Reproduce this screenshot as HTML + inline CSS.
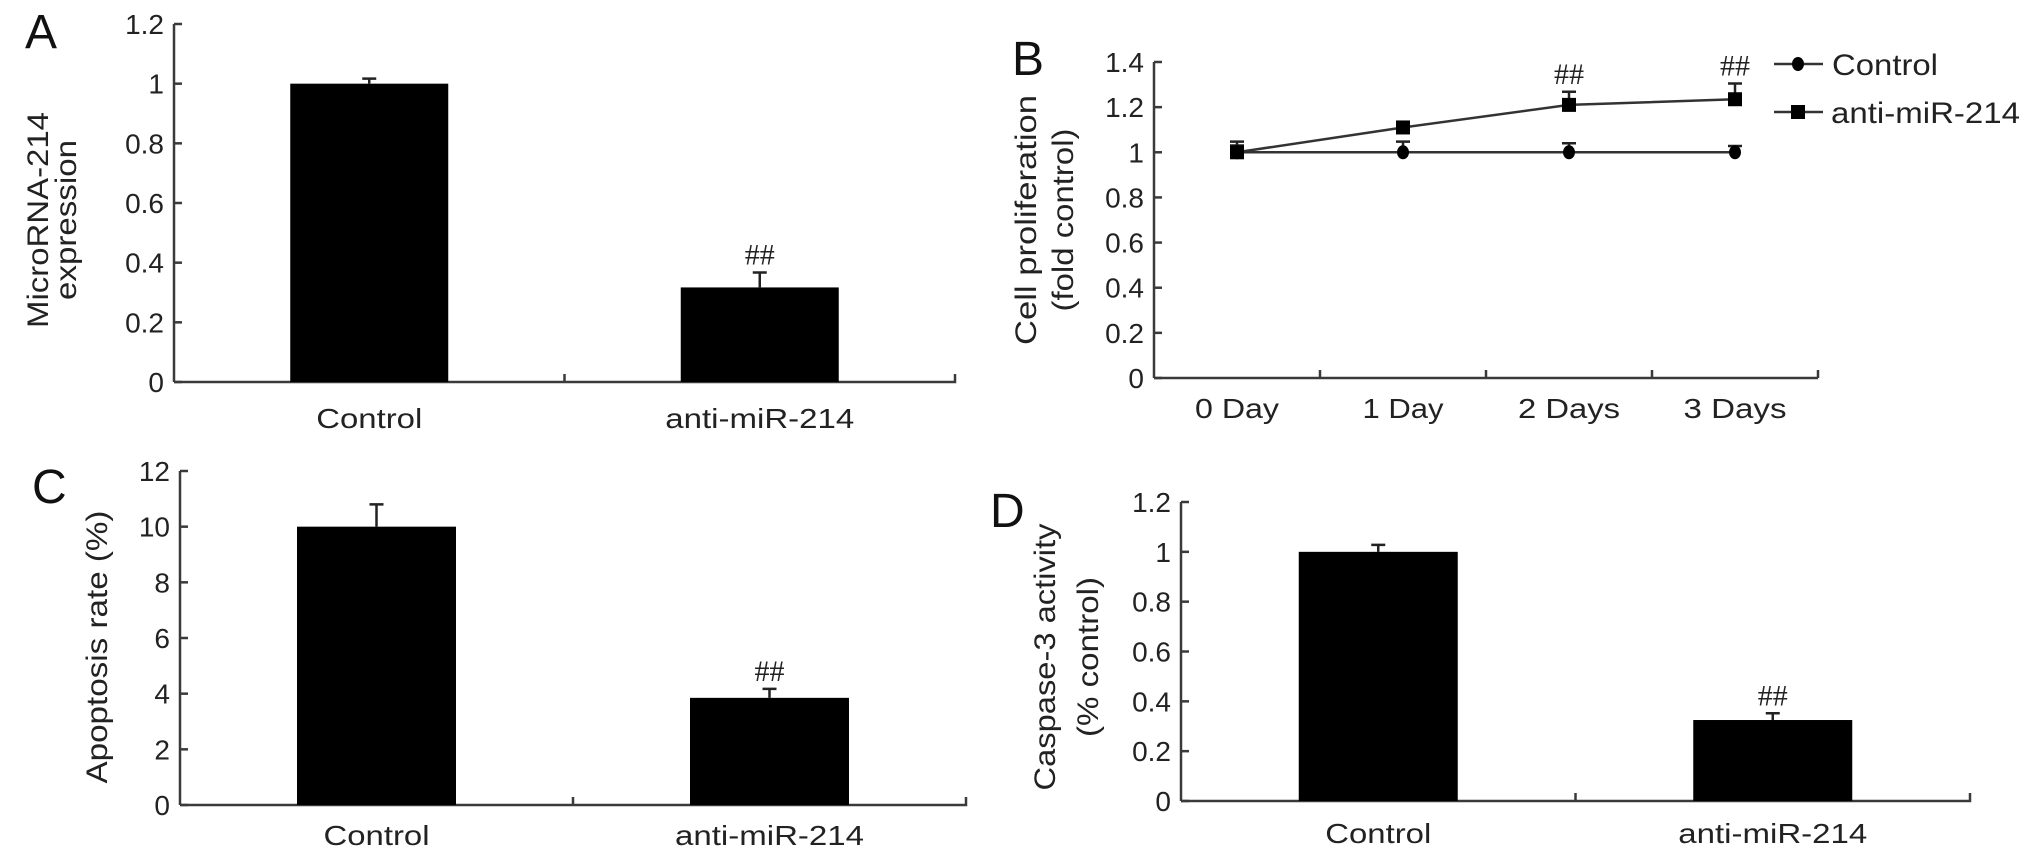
<!DOCTYPE html>
<html><head><meta charset="utf-8"><style>
html,body{margin:0;padding:0;background:#fff;}
svg{display:block;font-family:"Liberation Sans",Arial,sans-serif;}
</style></head><body>
<svg id="fig" width="2032" height="857" viewBox="0 0 2032 857" xmlns="http://www.w3.org/2000/svg"></svg>
<script>
// ---- data ----
const barCats = ["Control", "anti-miR-214"];
const aVals = [1.0, 0.317];
const aErr = [0.017, 0.05];
const aSig = ["", "##"];
const aTicks = [0, 0.2, 0.4, 0.6, 0.8, 1, 1.2];
const cVals = [10, 3.85];
const cErr = [0.8, 0.32];
const cSig = ["", "##"];
const cTicks = [0, 2, 4, 6, 8, 10, 12];
const dVals = [1.0, 0.325];
const dErr = [0.028, 0.027];
const dSig = ["", "##"];
const dTicks = [0, 0.2, 0.4, 0.6, 0.8, 1, 1.2];
const days = ["0 Day", "1 Day", "2 Days", "3 Days"];
const bControl = [1, 1, 1, 1];
const bControlErr = [0.047, 0.047, 0.04, 0.028];
const bAnti = [1, 1.11, 1.21, 1.235];
const bAntiErr = [0.03, 0.01, 0.058, 0.07];
const bSig = ["", "", "##", "##"];
const bTicks = [0, 0.2, 0.4, 0.6, 0.8, 1, 1.2, 1.4];

const NS = "http://www.w3.org/2000/svg";
const svg = document.getElementById("fig");
const AX = "#3a3a3a";
function mk(tag, attrs, parent, txt) {
  const e = document.createElementNS(NS, tag);
  for (const k in attrs) e.setAttribute(k, attrs[k]);
  if (txt !== undefined) e.textContent = txt;
  (parent || svg).appendChild(e);
  return e;
}
function fmt(v){ return String(Math.round(v*10)/10); }

function yAxis(g, x0, y0, yTop, max, ticks) {
  const ys = v => y0 - (v / max) * (y0 - yTop);
  const ax = mk("line", {x1:x0, y1:y0, x2:x0, y2:yTop, stroke:AX, "stroke-width":2.5}, g);
  
  
  ticks.forEach(t => {
    const tk = mk("line", {x1:x0, y1:ys(t), x2:x0+8, y2:ys(t), stroke:AX, "stroke-width":2.5}, g);
    
    
    const lb = mk("text", {x:x0-10, y:ys(t)+10, "text-anchor":"end", "font-size":28, fill:"#222"}, g, fmt(t));
    
    
  });
  return ys;
}
function errBar(g, x, y1, y2, name) {
  const l = mk("path", {d:`M${x},${y1}V${y2}M${x-7},${y2}H${x+7}`, stroke:"#222", "stroke-width":2.5, fill:"none"}, g);
  
  
}
function sig(g, x, y, s) {
  if (!s) return;
  const t = mk("text", {x:x, y:y, "text-anchor":"middle", "font-size":30, "font-family":"Liberation Serif, serif", fill:"#222"}, g, s);
  
  
}
function letter(txt, x, y) {
  const t = mk("text", {x:x, y:y, "font-size":48, fill:"#111"}, svg, txt);
  
  
}
function yTitle(g, lines, cx, cy) {
  lines.forEach(L => {
    const t = mk("text", {x:0, y:0, "text-anchor":"middle", "font-size":30, fill:"#222", textLength:L.len, lengthAdjust:"spacingAndGlyphs",
      transform:`translate(${L.x},${cy}) rotate(-90)`}, g, L.t);
    
    
  });
}

function barPanel(name, vals, errs, sigs, ticks, max, x0, x1, y0, yTop, labBase, barW, labW) {
  const g = mk("g", {});
  
  
  const ys = yAxis(g, x0, y0, yTop, max, ticks);
  const band = (x1 - x0) / vals.length;
  const xc = i => x0 + band * (i + 0.5);
  const xa = mk("path", {d:`M${x0},${y0}H${x1}V${y0-8}M${x0+band},${y0}V${y0-8}`, stroke:AX, "stroke-width":2.5, fill:"none"}, g);
  
  
  vals.forEach((v, i) => {
    errBar(g, xc(i), ys(v), ys(v + errs[i]), 'error-bar-' + i);
    const b = mk("rect", {x:xc(i)-barW/2, y:ys(v), width:barW, height:y0-ys(v), fill:"#000"}, g);
    
    
    sig(g, xc(i), ys(v + errs[i]) - 8, sigs[i]);
    const t = mk("text", {x:xc(i), y:labBase, "text-anchor":"middle", "font-size":28, fill:"#222", textLength:labW[i], lengthAdjust:"spacingAndGlyphs"}, g, barCats[i]);
    
    
  });
  return g;
}

// Panel A
letter("A", 25, 48);
const gA = barPanel("panel-a-chart", aVals, aErr, aSig, aTicks, 1.2, 174, 955, 382, 24, 428, 158, [106, 189]);
yTitle(gA, [{t:"MicroRNA-214", x:48, len:216}, {t:"expression", x:76, len:160}], 0, 220);

// Panel C
letter("C", 32, 503);
const gC = barPanel("panel-c-chart", cVals, cErr, cSig, cTicks, 12, 180, 966, 805, 471, 845, 159, [106, 189]);
yTitle(gC, [{t:"Apoptosis rate (%)", x:107, len:273}], 0, 647);

// Panel D
letter("D", 990, 527);
const gD = barPanel("panel-d-chart", dVals, dErr, dSig, dTicks, 1.2, 1181, 1970, 801, 502, 843, 159, [106, 189]);
yTitle(gD, [{t:"Caspase-3 activity", x:1055, len:267}, {t:"(% control)", x:1098, len:160}], 0, 657);

// Panel B
letter("B", 1012, 75);
(function(){
  const g = mk("g", {});
  
  
  const x0 = 1154, x1 = 1818, y0 = 378, yTop = 62;
  const ys = yAxis(g, x0, y0, yTop, 1.4, bTicks);
  const band = (x1 - x0) / days.length;
  const xc = i => x0 + band * (i + 0.5);
  let d = `M${x0},${y0}H${x1}`;
  for (let i = 1; i <= days.length; i++) d += `M${x0+band*i},${y0}V${y0-8}`;
  const xa = mk("path", {d:d, stroke:AX, "stroke-width":2.5, fill:"none"}, g);
  
  
  const labW = [84, 81, 102, 103];
  days.forEach((dy, i) => {
    const t = mk("text", {x:xc(i), y:418, "text-anchor":"middle", "font-size":28, fill:"#222", textLength:labW[i], lengthAdjust:"spacingAndGlyphs"}, g, dy);
    
    
  });
  // error bars
  days.forEach((dy, i) => {
    errBar(g, xc(i), ys(bControl[i]), ys(bControl[i] + bControlErr[i]), 'control-error-bar');
    errBar(g, xc(i), ys(bAnti[i]), ys(bAnti[i] + bAntiErr[i]), 'anti-error-bar');
  });
  const lc = mk("polyline", {points: bControl.map((v,i)=>`${xc(i)},${ys(v)}`).join(" "), stroke:"#333", "stroke-width":2.5, fill:"none"}, g);
  
  
  const la = mk("polyline", {points: bAnti.map((v,i)=>`${xc(i)},${ys(v)}`).join(" "), stroke:"#333", "stroke-width":2.5, fill:"none"}, g);
  
  
  bControl.forEach((v, i) => {
    const c = mk("ellipse", {cx:xc(i), cy:ys(v), rx:6, ry:7, fill:"#000"}, g);
    
    
  });
  bAnti.forEach((v, i) => {
    const s = mk("rect", {x:xc(i)-7, y:ys(v)-7, width:14, height:14, fill:"#000"}, g);
    
    
    sig(g, xc(i), ys(v + bAntiErr[i]) - 8, bSig[i]);
  });
  // legend
  const lg = mk("g", {}, g);
  
  
  const e1 = mk("path", {d:"M1774,64H1823", stroke:"#333", "stroke-width":2.5}, lg);
  
  
  const e1m = mk("ellipse", {cx:1798, cy:64, rx:6, ry:7, fill:"#000"}, lg);
  
  
  const t1 = mk("text", {x:1832, y:75, "font-size":30, fill:"#222", textLength:106, lengthAdjust:"spacingAndGlyphs"}, lg, "Control");
  
  
  const e2 = mk("path", {d:"M1774,112H1823", stroke:"#333", "stroke-width":2.5}, lg);
  
  
  const e2m = mk("rect", {x:1791, y:105, width:14, height:14, fill:"#000"}, lg);
  
  
  const t2 = mk("text", {x:1831, y:123, "font-size":30, fill:"#222", textLength:189, lengthAdjust:"spacingAndGlyphs"}, lg, "anti-miR-214");
  
  
  yTitle(g, [{t:"Cell proliferation", x:1036, len:250}, {t:"(fold control)", x:1073, len:183}], 0, 220);
})();
</script>
</body></html>
